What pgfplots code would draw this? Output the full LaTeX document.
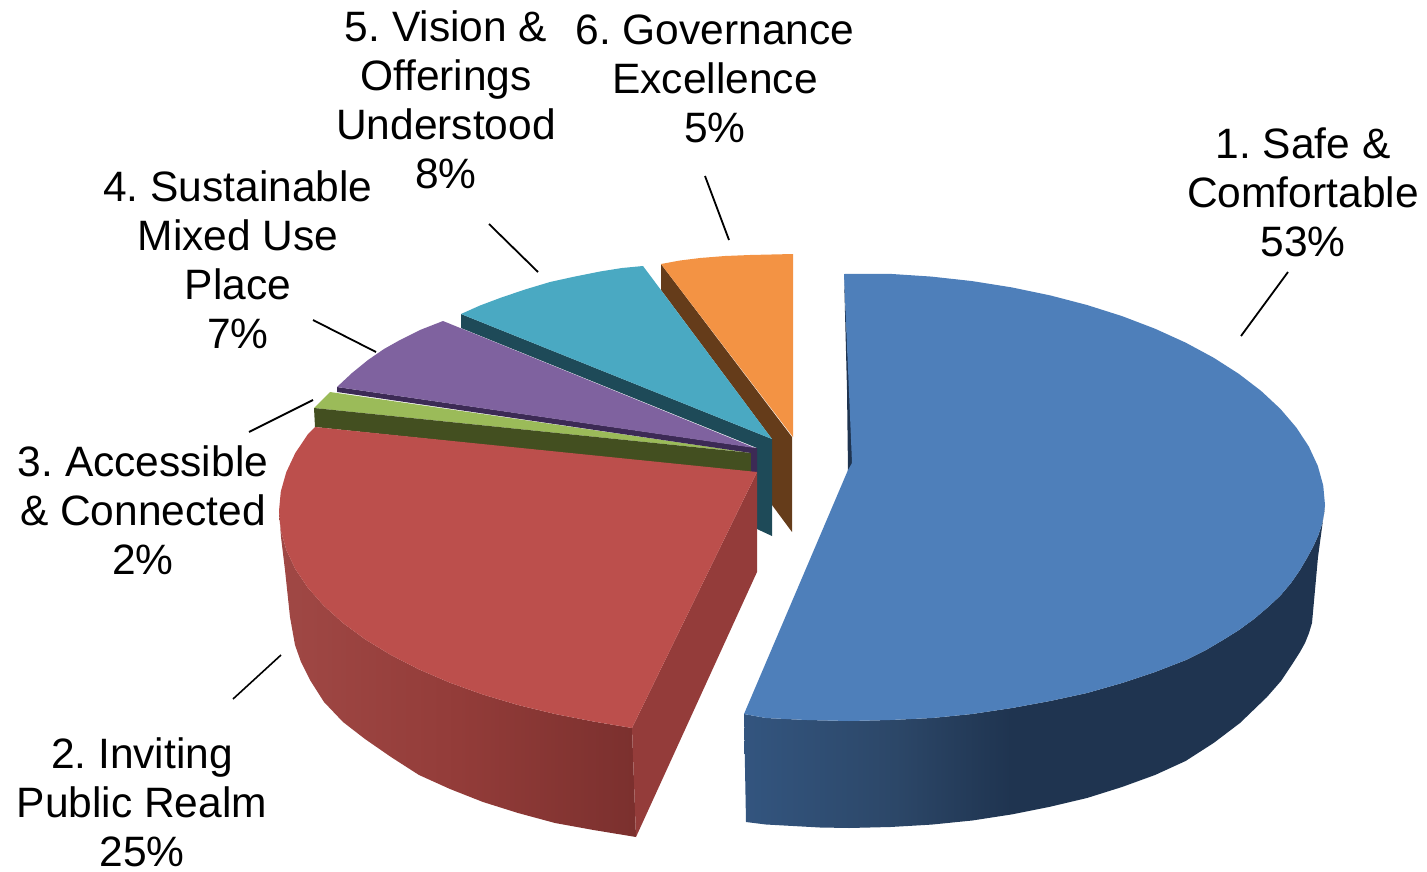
\documentclass[border=0pt]{standalone}
\usepackage{pgfplots}
\pgfplotsset{compat=1.18}
\usepackage{fontspec}
\setmainfont{Liberation Sans}
\frenchspacing

\definecolor{blueTop}{HTML}{4E7FBA}
\definecolor{blueA}{HTML}{33557F}
\definecolor{blueB}{HTML}{2C4768}
\definecolor{blueC}{HTML}{1F3450}
\definecolor{redTop}{HTML}{BC4F4C}
\definecolor{redA}{HTML}{A04845}
\definecolor{redB}{HTML}{933C39}
\definecolor{redC}{HTML}{7B302E}
\definecolor{redEnd}{HTML}{943C3A}
\definecolor{greenTop}{HTML}{9BBB59}
\definecolor{greenSide}{HTML}{434F20}
\definecolor{purpleTop}{HTML}{7F629F}
\definecolor{purpleSide}{HTML}{3C2A55}
\definecolor{tealTop}{HTML}{4AA9C2}
\definecolor{tealSide}{HTML}{1E4A58}
\definecolor{orangeTop}{HTML}{F39344}
\definecolor{orangeSide}{HTML}{653C1A}

% The central 25bp..75bp of a 100bp shading spans the bounding box of the path
\pgfdeclarehorizontalshading{blueside}{100bp}{color(0bp)=(blueA); color(25bp)=(blueA);
  color(38bp)=(blueB); color(48bp)=(blueC); color(100bp)=(blueC)}
\pgfdeclarehorizontalshading{redside}{100bp}{color(0bp)=(redA); color(25bp)=(redA);
  color(50bp)=(redB); color(75bp)=(redC); color(100bp)=(redC)}

\newcommand{\lbl}[3]{\node[align=center,inner sep=0pt,anchor=center,
  font=\fontsize{42.5}{49}\selectfont] at (axis cs:#1,#2) {#3};}

\begin{document}
\begin{tikzpicture}
\begin{axis}[
  scale only axis, width=1427pt, height=872pt,
  xmin=0, xmax=1427, ymin=0, ymax=872, y dir=reverse,
  hide axis, clip=false,
  every axis plot/.append style={draw=none, forget plot},
]
% A hidden axis adds nothing to the bounding box, so the frame is reserved here
\path (rel axis cs:0,0) rectangle (rel axis cs:1,1);

% 1. Safe & Comfortable: outer wall, inner sliver, top face
\addplot[shading=blueside] coordinates {
  (1325,505)(1324,514)(1322,524)(1318,536)(1313,547)(1307,558)(1300,570)(1291,583)(1280,596)(1267,608)(1254,619)(1239,630)(1223,640)
  (1206,650)(1186,660)(1155,672)(1122,683)(1087,693)(1050,701)(1012,708)(972,714)(932,718)(890,720)(849,721)(807,720)(766,718)(744,714)
  (746,822)(766,824.5)(793,826)(820,827.5)(849,828)(890.5,827)(931.6,824.6)(972.2,820.5)(1011.8,814.4)(1050.2,806.7)(1087,798)(1122,787)
  (1155,775)(1185.6,761)(1213.6,743)(1240,723)(1267,697)(1281,681)(1293,663)(1300,652)(1305,643)(1309,633)(1312,623)(1318,557)(1323,520)};
\addplot[fill=blueC] coordinates {(844,274)(847,390)(848,472)(853,465)};
\addplot[fill=blueTop] coordinates {
  (844,274)(890.5,273.9)(931.6,276.6)(972.2,281.1)(1011.8,287.4)(1050.2,295.4)(1087,305)(1122,316.1)(1155,328.7)(1185.6,342.6)
  (1213.6,357.7)(1238.9,373.9)(1261.2,391)(1280.4,408.9)(1296.3,427.5)(1308.8,446.5)(1317.8,465.9)(1323.2,485.4)(1325,505)
  (1324,514)(1322,524)(1318,536)(1313,547)(1307,558)(1300,570)(1291,583)(1280,596)(1267,608)(1254,619)(1239,630)(1223,640)
  (1206,650)(1186,660)(1155,672)(1122,683)(1087,693)(1050,701)(1012,708)(972,714)(932,718)(890,720)(849,721)(807,720)(766,718)(744,714)
  (848,470)(852,463)};

% 6. Governance Excellence
\addplot[fill=orangeSide] coordinates {(661,264)(792,437)(792,532)(772,505)(772,439)(661,290)};
\addplot[fill=orangeTop] coordinates {(661,264)(680,260.5)(700,258)(725,256)(750,255)(793,254)(793,437)};

% 5. Vision & Offerings Understood
\addplot[fill=tealSide] coordinates {(461,314)(772,439)(772,536)(757,529)(757,448)(461,328)};
\addplot[fill=tealTop] coordinates {(461,314)(480,305.5)(500,298)(525,289.5)(550,282)(575,276.5)(600,271.5)(622,268)(643,266)(772,439)};

% 3. Accessible & Connected
\addplot[fill=greenTop] coordinates {(330,392)(314,408)(752,453)};
\addplot[fill=greenSide] coordinates {(314,408)(752,453)(752,473)(315,427)};

% 4. Sustainable Mixed Use Place
\addplot[fill=purpleSide] coordinates {(337,387)(757,448)(757,473)(751,473)(751,453)(337,392)};
\addplot[fill=purpleTop] coordinates {(443,321)(420,330)(400,340)(384,349)(368,360)(352,373)(337,387)(755,448)};

% 2. Inviting Public Realm: outer wall, cut end, top face
\addplot[shading=redside] coordinates {
  (279,511)(280.8,530.5)(286.3,549.9)(295.3,569)(307.8,587.6)(323.8,605.7)(343,623)(365.4,639.5)(390.9,655)(419,669.4)(449.7,682.6)
  (482.8,694.5)(518,705)(555,714)(593.5,721.5)(632,728)
  (636,837)(593.5,830)(555,823)(518,813)(483,802)(450,789)(419,775)(391,757)(365,739)(343,722)(324,702)(310,680)(301,662)(295,645)(290,617)(285,570)(281,537)};
\addplot[fill=redEnd] coordinates {(757,472)(757,572)(636,837)(632,728)};
\addplot[fill=redTop] coordinates {
  (315,427)(757,472)(632,728)(593.5,721.5)(555,714)(518,705)(482.8,694.5)(449.7,682.6)(419,669.4)(390.9,655)(365.4,639.5)(343,623)
  (323.8,605.7)(307.8,587.6)(295.3,569)(286.3,549.9)(280.8,530.5)(279,511)(280.8,491.5)(286.3,472.1)(295.3,453)(307.8,434.4)};

% Leader lines
\addplot[draw=black, line width=1.8pt] coordinates {(1288,272)(1241,336)};
\addplot[draw=black, line width=1.6pt] coordinates {(281,655)(233,699)};
\addplot[draw=black, line width=1.8pt] coordinates {(313,400)(249,432)};
\addplot[draw=black, line width=1.8pt] coordinates {(313,320)(376,352)};
\addplot[draw=black, line width=1.8pt] coordinates {(489,224)(538,272)};
\addplot[draw=black, line width=1.8pt] coordinates {(705,176)(729,240)};

% Slice labels
\lbl{1303}{192}{1. Safe \&\\Comfortable\\53\%}
\lbl{142}{802}{2. Inviting\\Public Realm\\25\%}
\lbl{143}{510}{3. Accessible\\\& Connected\\2\%}
\lbl{238}{260}{4. Sustainable\\Mixed Use\\Place\\7\%}
\lbl{446}{100}{5. Vision \&\\Offerings\\Understood\\8\%}
\lbl{715}{79}{6. Governance\\Excellence\\5\%}
\end{axis}
\end{tikzpicture}
\end{document}
